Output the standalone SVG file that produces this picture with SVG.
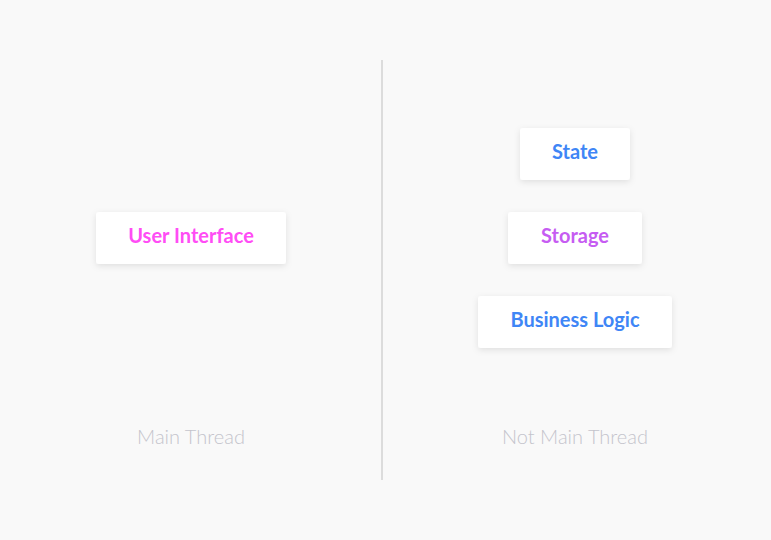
<svg xmlns="http://www.w3.org/2000/svg" width="771" height="540" viewBox="0 0 771 540">
<defs>
<filter id="sh" x="-20%" y="-30%" width="140%" height="170%">
<feDropShadow dx="0" dy="2" stdDeviation="3" flood-color="#000" flood-opacity="0.10"/>
</filter>
</defs>
<style>
.box{fill:#fff;filter:url(#sh)}
.t{font-family:"Lato","Liberation Sans",sans-serif;font-weight:bold;font-size:20px;text-anchor:middle}
.lbl{font-family:"Lato","Liberation Sans",sans-serif;font-weight:300;font-size:20px;fill:#c4c4cc;text-anchor:middle}
</style>
<rect width="771" height="540" fill="#f9f9f9"/>
<g id="connectors">
<line x1="382" y1="60" x2="382" y2="480" stroke="#dcdcdc" stroke-width="2"/>
</g>
<g id="user-interface">
<rect class="box" x="96" y="212" width="190" height="52" rx="3"/>
<text class="t" x="191" y="243" fill="#ff4df5">User Interface</text>
</g>
<g id="state">
<rect class="box" x="520" y="128" width="110" height="52" rx="3"/>
<text class="t" x="575" y="159" fill="#3f86f6">State</text>
</g>
<g id="storage">
<rect class="box" x="508" y="212" width="134" height="52" rx="3"/>
<text class="t" x="575" y="243" fill="#c65cf2">Storage</text>
</g>
<g id="business-logic">
<rect class="box" x="478" y="296" width="194" height="52" rx="3"/>
<text class="t" x="575" y="327" fill="#3f86f6">Business Logic</text>
</g>
<text class="lbl" x="191" y="444">Main Thread</text>
<text class="lbl" x="575" y="444">Not Main Thread</text>
</svg>
